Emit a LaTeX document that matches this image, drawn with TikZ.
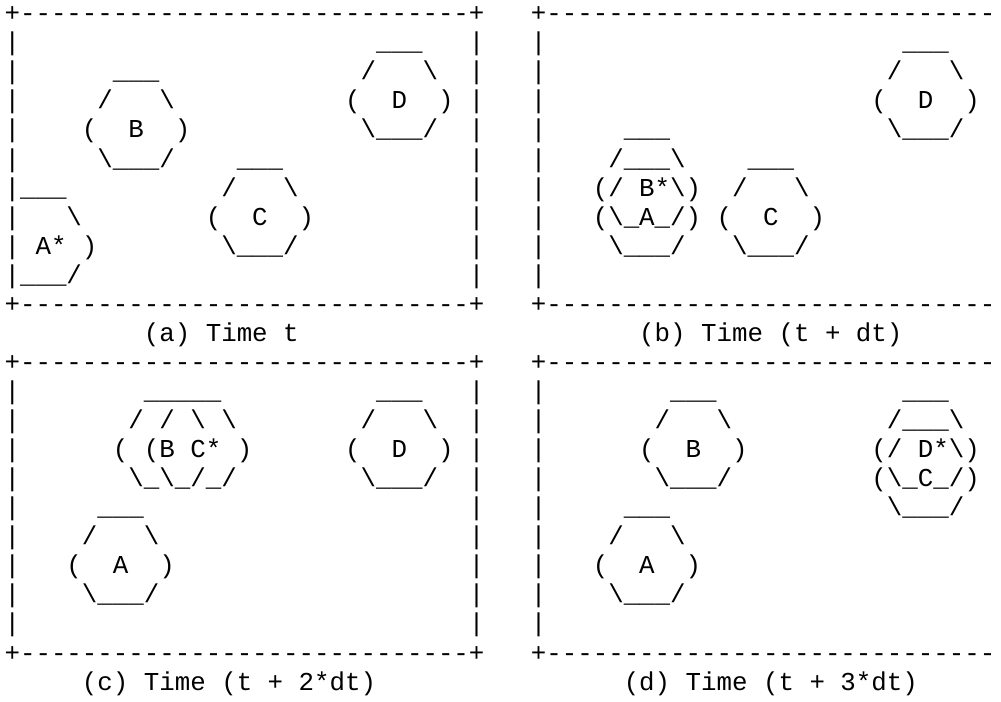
\documentclass[tikz,border=0pt]{standalone}
\usepackage{fontspec}
\newfontfamily\asciifont{Liberation Mono}

% one unit = one character cell / one text row
\tikzset{
  ascii/.style={anchor=base west, inner sep=0pt, outer sep=0pt,
    text height=13pt, text depth=4pt,
    font={\asciifont\fontsize{19.35pt}{21.8pt}\selectfont}},
}

% hexagon cell: column of '(', top row, letter, name
\newcommand{\hexagon}[4]{
  \node[ascii] (#4-t) at (#1+2,#2) {\_\_\_};
  \node[ascii] (#4-u) at (#1+1,#2+1) {/~~~\textbackslash};
  \node[ascii] (#4) at (#1,#2+2) {(~~#3~~)};
  \node[ascii] (#4-b) at (#1+1,#2+3) {\textbackslash\_\_\_/};
}

% frame: left column, top row
\newcommand{\panelframe}[2]{
  \node[ascii] at (#1,#2) {+};
  \node[ascii] at (#1,#2+10) {+};
  \foreach \c in {1,...,29} {
    \node[ascii] at (#1+\c,#2) {-};
    \node[ascii] at (#1+\c,#2+10) {-};
  }
  \foreach \r in {1,...,9} \node[ascii] at (#1,#2+\r) {|};
}
\newcommand{\panelright}[2]{
  \node[ascii] at (#1+30,#2) {+};
  \node[ascii] at (#1+30,#2+10) {+};
  \foreach \r in {1,...,9} \node[ascii] at (#1+30,#2+\r) {|};
}

\begin{document}
\begin{tikzpicture}[x=11.61pt,y=-21.795pt]
\useasboundingbox (-0.2946,-0.7467) rectangle (64.37,23.41);

% (a) time t
\panelframe{0}{0}
\panelright{0}{0}
\hexagon{22}{1}{D}{hexD-a}
\hexagon{5}{2}{B}{hexB-a}
\hexagon{13}{5}{C}{hexC-a}
\node[ascii] (hexA-a-t) at (1,6) {\_\_\_};
\node[ascii] (hexA-a-u) at (4,7) {\textbackslash};
\node[ascii] (hexA-a) at (2,8) {A*~)};
\node[ascii] (hexA-a-b) at (1,9) {\_\_\_/};
\node[ascii] (cap-a) at (9,11) {(a) Time t};

% (b) time t + dt
\panelframe{34}{0}
\hexagon{56}{1}{D}{hexD-b}
\node[ascii] (hexAB-b-t) at (40,4) {\_\_\_};
\node[ascii] (hexAB-b-u) at (39,5) {/\_\_\_\textbackslash};
\node[ascii] (hexAB-b) at (38,6) {(/~B*\textbackslash)};
\node[ascii] (hexAB-b-l) at (38,7) {(\textbackslash\_A\_/)};
\node[ascii] (hexAB-b-b) at (39,8) {\textbackslash\_\_\_/};
\hexagon{46}{5}{C}{hexC-b}
\node[ascii] (cap-b) at (41,11) {(b) Time (t + dt)};

% (c) time t + 2*dt
\panelframe{0}{12}
\panelright{0}{12}
\node[ascii] (hexBC-c-t) at (9,13) {\_\_\_\_\_};
\node[ascii] (hexBC-c-u) at (8,14) {/~/~\textbackslash~\textbackslash};
\node[ascii] (hexBC-c) at (7,15) {(~(B~C*~)};
\node[ascii] (hexBC-c-b) at (8,16) {\textbackslash\_\textbackslash\_/\_/};
\hexagon{22}{13}{D}{hexD-c}
\hexagon{4}{17}{A}{hexA-c}
\node[ascii] (cap-c) at (5,23) {(c) Time (t + 2*dt)};

% (d) time t + 3*dt
\panelframe{34}{12}
\hexagon{41}{13}{B}{hexB-d}
\node[ascii] (hexCD-d-t) at (58,13) {\_\_\_};
\node[ascii] (hexCD-d-u) at (57,14) {/\_\_\_\textbackslash};
\node[ascii] (hexCD-d) at (56,15) {(/~D*\textbackslash)};
\node[ascii] (hexCD-d-l) at (56,16) {(\textbackslash\_C\_/)};
\node[ascii] (hexCD-d-b) at (57,17) {\textbackslash\_\_\_/};
\hexagon{38}{17}{A}{hexA-d}
\node[ascii] (cap-d) at (40,23) {(d) Time (t + 3*dt)};
\end{tikzpicture}
\end{document}
